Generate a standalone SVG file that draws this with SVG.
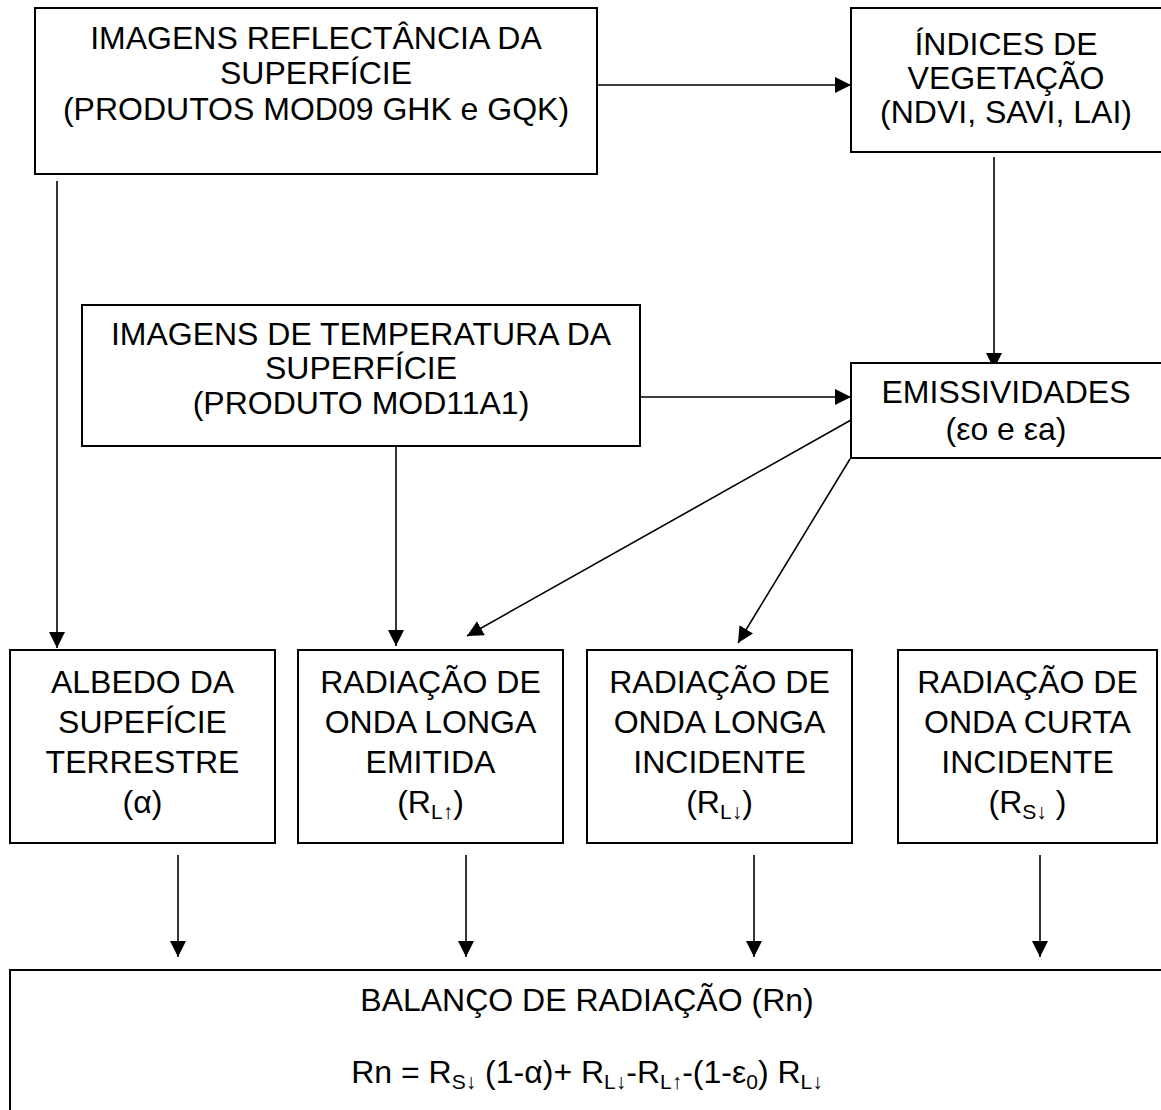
<svg xmlns="http://www.w3.org/2000/svg" width="1161" height="1110" viewBox="0 0 1161 1110">
<defs>
<style>
.box{fill:#fff;stroke:#000;stroke-width:2}
.t{font-family:"Liberation Sans",Arial,sans-serif;font-size:32px;fill:#000;text-anchor:middle}
.c{stroke:#000;stroke-width:1.6;fill:none;marker-end:url(#ah)}
</style>
<marker id="ah" markerUnits="userSpaceOnUse" markerWidth="18" markerHeight="18" refX="16" refY="8" orient="auto">
<path d="M0,0 L16,8 L0,16 Z" fill="#000"/>
</marker>
</defs>
<rect width="1161" height="1110" fill="#fff"/>
<g id="connectors">
<line class="c" x1="597" y1="85" x2="851" y2="85"/>
<line class="c" x1="994" y1="157" x2="994" y2="369"/>
<line class="c" x1="640" y1="397" x2="851" y2="397"/>
<line class="c" x1="57" y1="181" x2="57" y2="648"/>
<line class="c" x1="396" y1="446" x2="396" y2="646"/>
<line class="c" x1="851" y1="420" x2="467" y2="636"/>
<line class="c" x1="850" y1="459" x2="738" y2="643"/>
<line class="c" x1="178" y1="855" x2="178" y2="957"/>
<line class="c" x1="466" y1="855" x2="466" y2="957"/>
<line class="c" x1="754" y1="855" x2="754" y2="957"/>
<line class="c" x1="1040" y1="855" x2="1040" y2="957"/>
</g>
<g id="n-reflectancia">
<rect class="box" x="35" y="8" width="562" height="166"/>
<text class="t" x="316" y="49">IMAGENS REFLECTÂNCIA DA</text>
<text class="t" x="316" y="84">SUPERFÍCIE</text>
<text class="t" x="316" y="120">(PRODUTOS MOD09 GHK e GQK)</text>
</g>
<g id="n-indices">
<rect class="box" x="851" y="8" width="320" height="144"/>
<text class="t" x="1006" y="55">ÍNDICES DE</text>
<text class="t" x="1006" y="89">VEGETAÇÃO</text>
<text class="t" x="1006" y="123">(NDVI, SAVI, LAI)</text>
</g>
<g id="n-temperatura">
<rect class="box" x="82" y="305" width="558" height="141"/>
<text class="t" x="361" y="345">IMAGENS DE TEMPERATURA DA</text>
<text class="t" x="361" y="379">SUPERFÍCIE</text>
<text class="t" x="361" y="414">(PRODUTO MOD11A1)</text>
</g>
<g id="n-emissividades">
<rect class="box" x="851" y="363" width="320" height="95"/>
<text class="t" x="1006" y="403">EMISSIVIDADES</text>
<text class="t" x="1006" y="440">(εo e εa)</text>
</g>
<g id="n-albedo">
<rect class="box" x="10" y="650" width="265" height="193"/>
<text class="t" x="142.5" y="693">ALBEDO DA</text>
<text class="t" x="142.5" y="733">SUPEFÍCIE</text>
<text class="t" x="142.5" y="773">TERRESTRE</text>
<text class="t" x="142.5" y="813">(α)</text>
</g>
<g id="n-emitida">
<rect class="box" x="298" y="650" width="265" height="193"/>
<text class="t" x="430.5" y="693">RADIAÇÃO DE</text>
<text class="t" x="430.5" y="733">ONDA LONGA</text>
<text class="t" x="430.5" y="773">EMITIDA</text>
<text class="t" x="430.5" y="813">(R<tspan font-size="21" dy="6">L↑</tspan><tspan dy="-6">)</tspan></text>
</g>
<g id="n-incidente">
<rect class="box" x="587" y="650" width="265" height="193"/>
<text class="t" x="719.5" y="693">RADIAÇÃO DE</text>
<text class="t" x="719.5" y="733">ONDA LONGA</text>
<text class="t" x="719.5" y="773">INCIDENTE</text>
<text class="t" x="719.5" y="813">(R<tspan font-size="21" dy="6">L↓</tspan><tspan dy="-6">)</tspan></text>
</g>
<g id="n-curta">
<rect class="box" x="898" y="650" width="259" height="193"/>
<text class="t" x="1027.5" y="693">RADIAÇÃO DE</text>
<text class="t" x="1027.5" y="733">ONDA CURTA</text>
<text class="t" x="1027.5" y="773">INCIDENTE</text>
<text class="t" x="1027.5" y="813">(R<tspan font-size="21" dy="6">S↓</tspan><tspan dy="-6"> )</tspan></text>
</g>
<g id="n-balanco">
<rect class="box" x="10" y="970" width="1170" height="160"/>
<text class="t" x="587" y="1011">BALANÇO DE RADIAÇÃO (Rn)</text>
<text class="t" x="587" y="1083">Rn = R<tspan font-size="21" dy="6">S↓</tspan><tspan dy="-6"> (1-α)+ R</tspan><tspan font-size="21" dy="6">L↓</tspan><tspan dy="-6">-R</tspan><tspan font-size="21" dy="6">L↑</tspan><tspan dy="-6">-(1-ε</tspan><tspan font-size="21" dy="6">0</tspan><tspan dy="-6">) R</tspan><tspan font-size="21" dy="6">L↓</tspan></text>
</g>
</svg>
